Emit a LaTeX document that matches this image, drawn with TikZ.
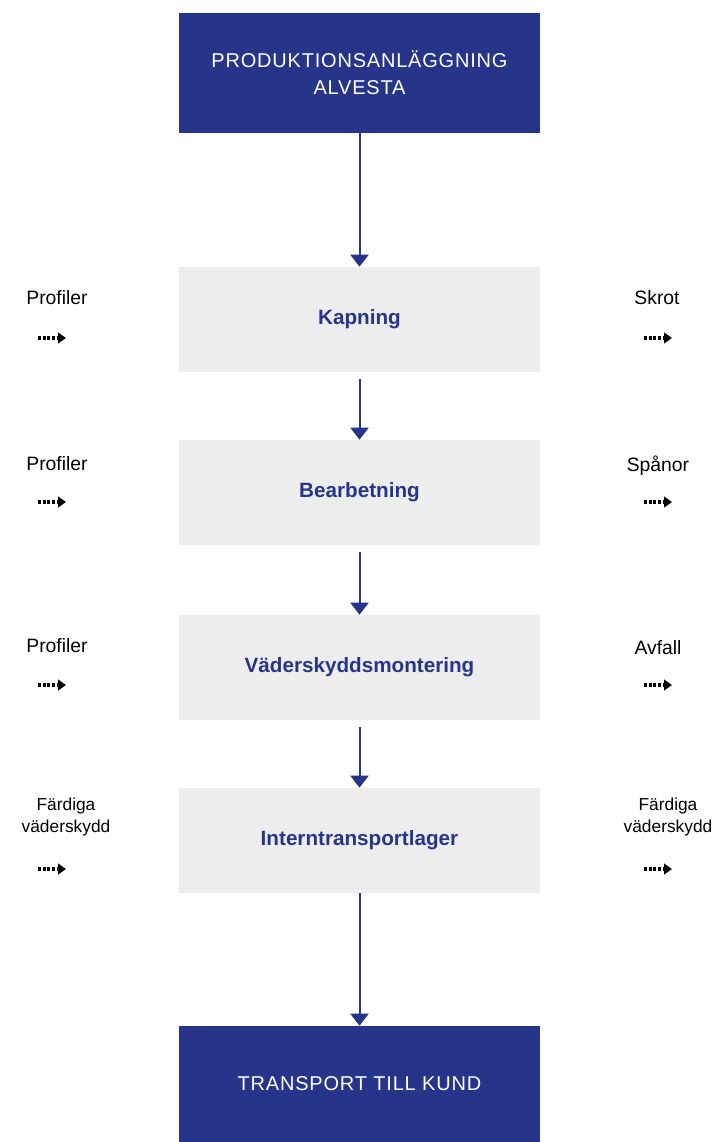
\documentclass[tikz,border=0pt]{standalone}
\usepackage{fontspec}
\setmainfont{Liberation Sans}
\usetikzlibrary{arrows.meta,positioning}

\definecolor{navy}{RGB}{38,53,138}
\definecolor{boxgray}{RGB}{237,237,237}

\tikzset{
  endbox/.style={rectangle, fill=navy, text=white, minimum width=361*0.75pt,
                 align=center, font=\fontsize{15}{20}\selectfont\addfontfeatures{LetterSpace=4}},
  stepbox/.style={rectangle, fill=boxgray, text=navy, minimum width=361*0.75pt,
                  minimum height=105*0.75pt, font=\fontsize{15.5}{18}\selectfont\bfseries},
  side/.style={align=center, font=\fontsize{14.5}{16.5}\selectfont},
  flow/.style={draw=navy, line width=1.5pt, -{Triangle[width=13.5pt,length=9pt]}},
  feed/.style={line width=2.3pt, dash pattern=on 2.2pt off 1.3pt, -{Triangle[width=8pt,length=6pt]}}
}

\begin{document}
\begin{tikzpicture}[x=0.75pt,y=-0.75pt]
  \useasboundingbox (0,0) rectangle (721,1142);

  % main flow
  \node[endbox, minimum height=120*0.75pt] (prod) at (359.5,73) {PRODUKTIONSANLÄGGNING\\ALVESTA};
  \node[stepbox] (kap) at (359.5,319.5) {Kapning};
  \node[stepbox] (bea) at (359.5,492.5) {Bearbetning};
  \node[stepbox] (vad) at (359.5,667.5) {Väderskyddsmontering};
  \node[stepbox] (int) at (359.5,840.5) {Interntransportlager};
  \node[endbox, minimum height=116*0.75pt] (kund) at (359.5,1084) {TRANSPORT TILL KUND};

  \draw[flow] (prod) -- (kap);
  \draw[flow, shorten <=5.25pt] (kap) -- (bea);
  \draw[flow, shorten <=5.25pt] (bea) -- (vad);
  \draw[flow, shorten <=5.25pt] (vad) -- (int);
  \draw[flow] (int) -- (kund);

  % in- and outflows
  \node[side] (in1) at (57,298) {Profiler};
  \node[side] (ut1) at (657,298) {Skrot};
  \node[side] (in2) at (57,464) {Profiler};
  \node[side] (ut2) at (658,466) {Spånor};
  \node[side] (in3) at (57,646) {Profiler};
  \node[side] (ut3) at (658,648) {Avfall};
  \node[side, font=\fontsize{13}{16.5}\selectfont] (in4) at (66,817) {Färdiga\\väderskydd};
  \node[side, font=\fontsize{13}{16.5}\selectfont] (ut4) at (668,817) {Färdiga\\väderskydd};

  \foreach \i/\y in {1/338, 2/502, 3/685, 4/869} {
    \coordinate (ina\i) at (38,\y);
    \coordinate (inb\i) at (66,\y);
    \coordinate (uta\i) at (644,\y);
    \coordinate (utb\i) at (672,\y);
    \draw[feed] (ina\i) -- (inb\i);
    \draw[feed] (uta\i) -- (utb\i);
  }
\end{tikzpicture}
\end{document}
